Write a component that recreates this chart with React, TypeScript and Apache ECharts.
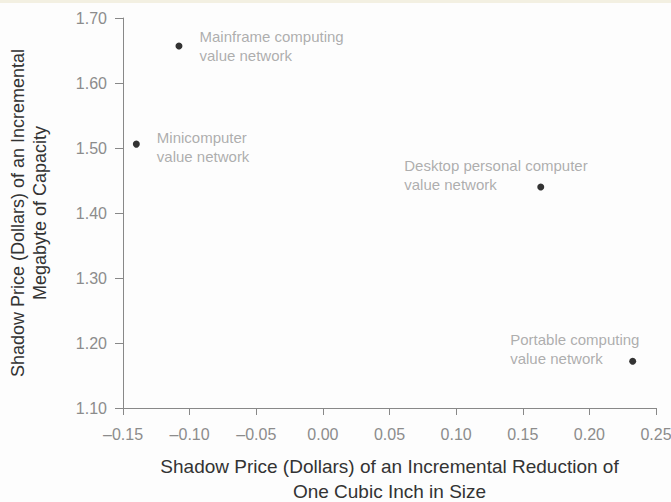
import React, { useEffect, useRef } from "react";
import * as echarts from "echarts";

const names = [
  "Mainframe computing\nvalue network",
  "Minicomputer\nvalue network",
  "Desktop personal computer\nvalue network",
  "Portable computing\nvalue network",
];
const xValues = [-0.108, -0.14, 0.1635, 0.2325];
const yValues = [1.657, 1.506, 1.44, 1.172];
const labelOffsets: [number, number][] = [
  [24, -15],
  [24, -13],
  [-133, -28],
  [-119, -28],
];

export default function App() {
  const ref = useRef<HTMLDivElement>(null);
  useEffect(() => {
    const chart = echarts.init(ref.current!, null, { renderer: "svg" });
    const font = "'Liberation Sans', Arial, sans-serif";
    chart.setOption({
      animation: false,
      backgroundColor: "#fdfdfd",
      grid: { left: 123, right: 15, top: 15, bottom: 94, outerBoundsMode: "none", containLabel: false },
      xAxis: {
        type: "value",
        min: -0.15,
        max: 0.25,
        interval: 0.05,
        name: "Shadow Price (Dollars) of an Incremental Reduction of\nOne Cubic Inch in Size",
        nameLocation: "middle",
        nameGap: 46,
        nameTextStyle: { fontFamily: font, fontSize: 19, color: "#333", lineHeight: 25 },
        splitLine: { show: false },
        axisLine: { onZero: false, lineStyle: { color: "#888", width: 1 } },
        axisTick: { length: 7, lineStyle: { color: "#888" } },
        axisLabel: {
          fontFamily: font,
          fontSize: 16,
          color: "#8c8c8c",
          margin: 18,
          formatter: (v: number) => v.toFixed(2).replace("-", "\u2013"),
        },
      },
      yAxis: {
        type: "value",
        min: 1.1,
        max: 1.7,
        interval: 0.1,
        name: "Shadow Price (Dollars) of an Incremental\nMegabyte of Capacity",
        nameLocation: "middle",
        nameRotate: 90,
        nameGap: 72,
        nameTextStyle: { fontFamily: font, fontSize: 18, color: "#333", lineHeight: 22 },
        splitLine: { show: false },
        axisLine: { show: true, onZero: false, lineStyle: { color: "#888", width: 1 } },
        axisTick: { show: true, length: 8, lineStyle: { color: "#888" } },
        axisLabel: {
          fontFamily: font,
          fontSize: 16,
          color: "#8c8c8c",
          margin: 16,
          formatter: (v: number) => v.toFixed(2),
        },
      },
      series: [
        {
          type: "scatter",
          symbolSize: 7,
          itemStyle: { color: "#000" },
          data: xValues.map((x, i) => ({
            value: [x, yValues[i]],
            label: {
              show: true,
              formatter: names[i],
              position: labelOffsets[i],
              fontFamily: font,
              fontSize: 15,
              lineHeight: 19,
              color: "#999",
              align: "left",
              verticalAlign: "top",
            },
          })),
        },
      ],
    });
    return () => chart.dispose();
  }, []);
  return (
    <div style={{ position: "fixed", left: 0, top: 0, width: 671, height: 502, background: "#fdfdfd" }}>
      <div style={{ position: "absolute", left: 0, top: 0, width: 671, height: 3, background: "#f3f0e2" }} />
      <div ref={ref} style={{ position: "absolute", left: 0, top: 3, width: 671, height: 499 }} />
    </div>
  );
}
